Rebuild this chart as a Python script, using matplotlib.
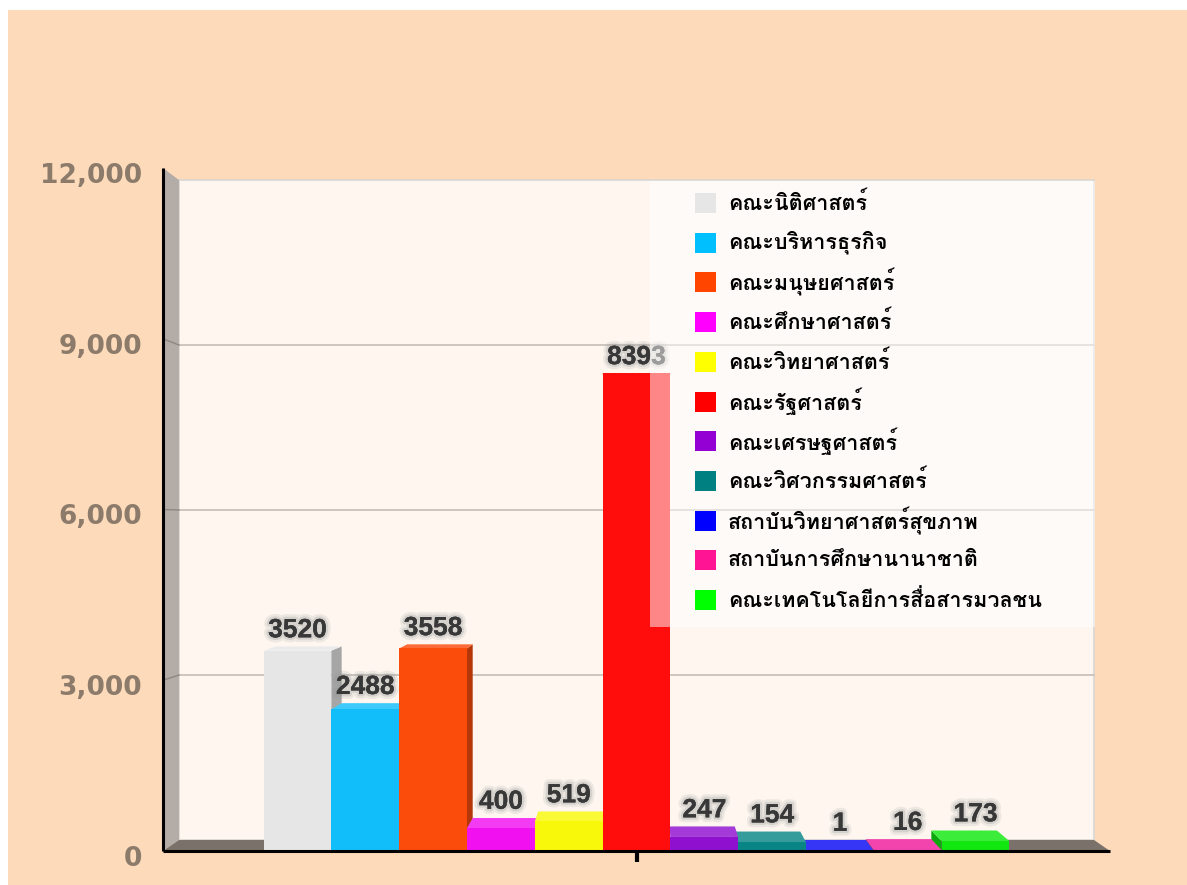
import matplotlib
matplotlib.use('Agg')
import matplotlib.pyplot as plt
import matplotlib.colors as mcolors
import matplotlib.patheffects as pe
import matplotlib.transforms as mtransforms
from matplotlib.patches import Polygon, Rectangle
from matplotlib import font_manager, ft2font

# ---------------- data ----------------
faculties = [
    'คณะนิติศาสตร์',
    'คณะบริหารธุรกิจ',
    'คณะมนุษยศาสตร์',
    'คณะศึกษาศาสตร์',
    'คณะวิทยาศาสตร์',
    'คณะรัฐศาสตร์',
    'คณะเศรษฐศาสตร์',
    'คณะวิศวกรรมศาสตร์',
    'สถาบันวิทยาศาสตร์สุขภาพ',
    'สถาบันการศึกษานานาชาติ',
    'คณะเทคโนโลยีการสื่อสารมวลชน',
]
values = [3520, 2488, 3558, 400, 519, 8393, 247, 154, 1, 16, 173]
bar_colors = ['#E6E6E6', '#12BEF9', '#FC4C0C', '#F010F0', '#F8F80A', '#FF0D0D',
              '#9010D0', '#0A8585', '#0A0AF5', '#F01A9A', '#10E810']
legend_colors = ['#E6E6E6', '#00BFFF', '#FF4500', '#FF00FF', '#FFFF00', '#FF0000',
                 '#9400D3', '#008080', '#0000FF', '#FF1493', '#00FF00']
y_ticks = [0, 3000, 6000, 9000, 12000]
y_tick_labels = ['0', '3,000', '6,000', '9,000', '12,000']

# ---------------- fonts ----------------
thai_family = None
for f in font_manager.fontManager.ttflist:
    try:
        cmap = ft2font.FT2Font(f.fname).get_charmap()
        if 0x0E01 in cmap and 0x0E13 in cmap and 0x0E28 in cmap:
            thai_family = f.name
            break
    except Exception:
        pass
legend_family = [thai_family, 'DejaVu Sans'] if thai_family else ['DejaVu Sans']

W, H = 1187, 885
fig = plt.figure(figsize=(W / 100, H / 100), dpi=100, facecolor='white')
fig.patches.append(Rectangle((8 / W, 0), 1 - 8 / W, 1 - 10 / H, transform=fig.transFigure,
                             facecolor='#FDDAB9', edgecolor='none', zorder=-10))

ax = fig.add_axes([163 / W, 34 / H, 947 / W, 683 / H])
ax.set_xlim(-0.5, 0.5)
ax.set_ylim(0, 12000)
ax.patch.set_visible(False)
for s in ax.spines.values():
    s.set_visible(False)

# perspective (vanishing point, depth scale)
VPX, VPY, S = 0.0, 5728.0, 0.9663


def back(x, y):
    return (VPX + (x - VPX) * S, VPY + (y - VPY) * S)


X0, X1, YMAX = -0.5, 0.5, 12000

# back wall
ax.add_patch(Polygon([back(X0, 0), back(X1, 0), back(X1, YMAX), back(X0, YMAX)],
                     closed=True, facecolor='#FEF6EF', edgecolor='#D9D6D3', lw=1.2, zorder=1))
# left wall
ax.add_patch(Polygon([(X0, 0), (X0, YMAX), back(X0, YMAX), back(X0, 0)],
                     closed=True, facecolor='#B4ADA7', edgecolor='none', zorder=2, clip_on=False))
# floor
ax.add_patch(Polygon([(X0, 0), (X1, 0), back(X1, 0), back(X0, 0)],
                     closed=True, facecolor='#7A716A', edgecolor='none', zorder=2, clip_on=False))
# gridlines
for t in y_ticks[1:-1]:
    bx0, by0 = back(X0, t)
    bx1, by1 = back(X1, t)
    ax.plot([bx0, bx1], [by0, by1], color='#C9C2BB', lw=1.3, zorder=1.5)
    ax.plot([X0, bx0], [t, by0], color='#8E8680', lw=1.0, zorder=2.5, clip_on=False)

# bars
n = len(values)
bw = 0.0716
centers = [(i - (n - 1) / 2) * bw for i in range(n)]
mid = (n - 1) // 2
order = list(range(0, mid)) + list(range(n - 1, mid, -1)) + [mid]


def shade(c, f):
    r, g, b = mcolors.to_rgb(c)
    if f >= 1:
        k = f - 1
        return (r + (1 - r) * k, g + (1 - g) * k, b + (1 - b) * k)
    return (r * f, g * f, b * f)


z = 3
for i in order:
    v = values[i]
    c = bar_colors[i]
    xl, xr = centers[i] - bw / 2, centers[i] + bw / 2
    sx = xr if centers[i] < VPX else xl
    if centers[i] != VPX:
        ax.add_patch(Polygon([(sx, 0), (sx, v), back(sx, v), back(sx, 0)], closed=True,
                             facecolor=shade(c, 0.72), edgecolor='none', zorder=z))
    ax.add_patch(Polygon([(xl, v), (xr, v), back(xr, v), back(xl, v)], closed=True,
                         facecolor=shade(c, 1.18), edgecolor='none', zorder=z + 0.1))
    ax.add_patch(Rectangle((xl, 0), bw, v, facecolor=c, edgecolor='none', zorder=z + 0.2))
    z += 0.5

# value labels
for i, v in enumerate(values):
    ytop = max(v, back(centers[i], v)[1])
    ax.annotate(str(v), (centers[i], ytop), xytext=(0, 3), textcoords='offset points',
                ha='center', va='bottom', fontsize=19, fontweight='bold',
                family='Liberation Sans', color='#383838', zorder=20,
                path_effects=[pe.withStroke(linewidth=7, foreground=(0.55, 0.55, 0.55, 0.14)),
                              pe.withStroke(linewidth=3.5, foreground=(0.6, 0.6, 0.6, 0.28))])

# front axis lines
ax.plot([X0, X0], [0, YMAX], color='black', lw=2.2, zorder=30, clip_on=False, solid_capstyle='butt')
ax.plot([X0, X1], [0, 0], color='black', lw=2.2, zorder=30, clip_on=False, solid_capstyle='butt')

ax.set_yticks(y_ticks, y_tick_labels)
ax.tick_params(axis='y', length=0, pad=15, labelsize=19, labelcolor='#8C7B6B')
for lab in ax.get_yticklabels():
    lab.set_fontweight('bold')
    lab.set_family('DejaVu Sans')
    lab.set_transform(lab.get_transform() + mtransforms.ScaledTranslation(0, -5 / 100, fig.dpi_scale_trans))
ax.set_xticks([0], [''])
ax.tick_params(axis='x', length=8, width=3, color='black', direction='out')

# legend (drawn manually over the plot, semi-transparent)
lx0, ly_top, lx1, ly_bot = 650, 181, 1095, 627
ax.add_patch(Rectangle((lx0 / W, 1 - ly_bot / H), (lx1 - lx0) / W, (ly_bot - ly_top) / H,
                       transform=fig.transFigure, facecolor='white', alpha=0.5,
                       edgecolor='none', zorder=50, clip_on=False))
row0, step = 203, 39.7
for k, (name, col) in enumerate(zip(faculties, legend_colors)):
    yc = row0 + k * step
    ax.add_patch(Rectangle((695 / W, 1 - (yc + 10) / H), 21 / W, 20 / H, transform=fig.transFigure,
                           facecolor=col, edgecolor='none', zorder=51, clip_on=False))
    ax.text(728 / W, 1 - yc / H, name, transform=fig.transFigure, ha='left', va='center',
            fontsize=15.5, fontweight='bold', family=legend_family, color='black', zorder=52)

fig.savefig('out.png', dpi=100, facecolor=fig.get_facecolor())
